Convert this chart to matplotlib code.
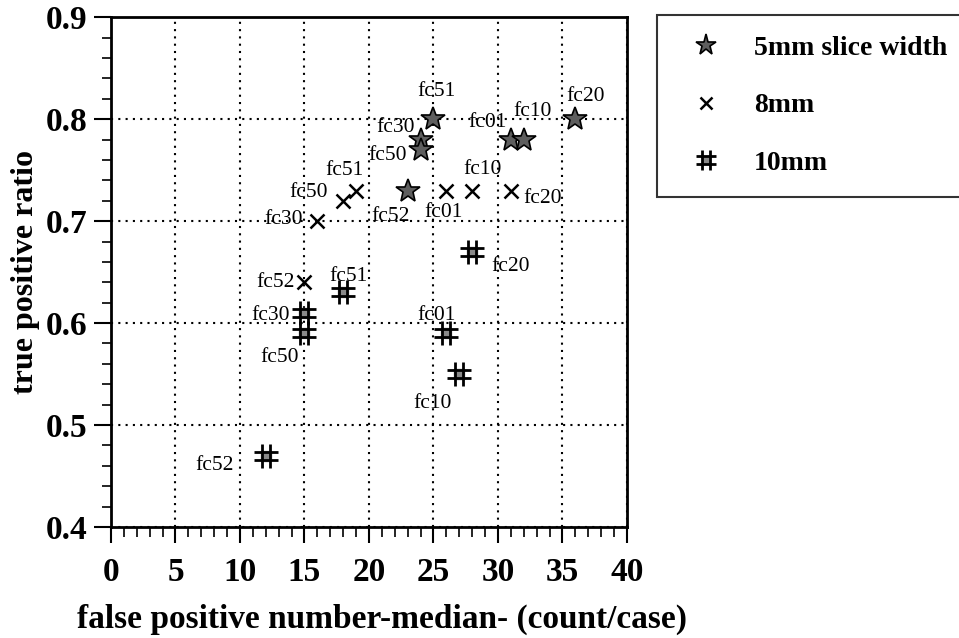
import matplotlib.pyplot as plt
from matplotlib.path import Path
from matplotlib.ticker import MultipleLocator

plt.rcParams['font.family'] = ['Liberation Serif', 'DejaVu Serif']

# 5mm slice width
labels_5mm = ['fc51', 'fc30', 'fc50', 'fc52', 'fc01', 'fc10', 'fc20']
fp_5mm = [25, 24, 24, 23, 31, 32, 36]
tp_5mm = [0.80, 0.78, 0.77, 0.73, 0.78, 0.78, 0.80]

# 8mm
labels_8mm = ['fc51', 'fc50', 'fc30', 'fc52', 'fc01', 'fc10', 'fc20']
fp_8mm = [19, 18, 16, 15, 26, 28, 31]
tp_8mm = [0.73, 0.72, 0.70, 0.64, 0.73, 0.73, 0.73]

# 10mm
labels_10mm = ['fc30', 'fc50', 'fc51', 'fc01', 'fc10', 'fc20', 'fc52']
fp_10mm = [15, 15, 18, 26, 27, 28, 12]
tp_10mm = [0.61, 0.59, 0.63, 0.59, 0.55, 0.67, 0.47]

xticks = [0, 5, 10, 15, 20, 25, 30, 35, 40]
yticks = [0.4, 0.5, 0.6, 0.7, 0.8, 0.9]

# label offsets (pixels) and alignment
off_5mm = [(3, 28, 'center'), (-6, 12, 'right'), (-14, -6, 'right'), (-17, -26, 'center'),
           (-4, 17, 'right'), (9, 28, 'center'), (10, 23, 'center')]
off_8mm = [(-12, 20, 'center'), (-15, 8, 'right'), (-15, 2, 'right'), (-10, 0, 'right'),
           (-3, -22, 'center'), (10, 21, 'center'), (12, -8, 'left')]
off_10mm = [(-15, -3, 'right'), (-25, -24, 'center'), (5, 16, 'center'), (-10, 18, 'center'),
            (-27, -29, 'center'), (19, -15, 'left'), (-32, -10, 'right')]

fig = plt.figure(figsize=(9.59, 6.38), dpi=100)
ax = fig.add_axes([0.1157, 0.174, 0.5381, 0.799])

# hash marker
hash_path = Path([(-1, -0.35), (1, -0.35), (-1, 0.35), (1, 0.35),
                  (-0.35, -1), (-0.35, 1), (0.35, -1), (0.35, 1)],
                 [Path.MOVETO, Path.LINETO] * 4)

h_star, = ax.plot(fp_5mm, tp_5mm, linestyle='none', marker='*', ms=18,
                  mfc='#5e5e5e', mec='black', mew=1.2, zorder=3)
h_x, = ax.plot(fp_8mm, tp_8mm, linestyle='none', marker='x', ms=10,
               color='black', mew=1.8, zorder=3)
h_sq, = ax.plot(fp_10mm, tp_10mm, linestyle='none', marker='s', ms=7,
                color='#8a8a8a', zorder=3)
h_hash, = ax.plot(fp_10mm, tp_10mm, linestyle='none', marker=hash_path, ms=17,
                  mfc='none', mec='black', mew=2, zorder=4)

for xs, ys, labs, offs in [(fp_5mm, tp_5mm, labels_5mm, off_5mm),
                           (fp_8mm, tp_8mm, labels_8mm, off_8mm),
                           (fp_10mm, tp_10mm, labels_10mm, off_10mm)]:
    for x, y, lab, (dx, dy, ha) in zip(xs, ys, labs, offs):
        ax.annotate(lab, (x, y), xytext=(dx, dy), textcoords='offset pixels',
                    ha=ha, va='center', fontsize=15.5, zorder=5)

ax.set_xlim(0, 40)
ax.set_ylim(0.4, 0.9)
ax.set_xticks(xticks)
ax.set_xticklabels([str(v) for v in xticks], weight='bold', fontsize=24)
ax.set_yticks(yticks)
ax.set_yticklabels(['%.1f' % v for v in yticks], weight='bold', fontsize=24)
ax.xaxis.set_minor_locator(MultipleLocator(1))
ax.yaxis.set_minor_locator(MultipleLocator(0.02))

ax.tick_params(axis='x', which='major', direction='out', length=11.5, width=1.5, pad=10)
ax.tick_params(axis='x', which='minor', direction='out', length=7, width=1.2)
ax.tick_params(axis='y', which='major', direction='out', length=12, width=1.5, pad=5)
ax.tick_params(axis='y', which='minor', direction='out', length=6.5, width=1.2)

ax.grid(which='major', color='black', linestyle=(0, (1, 2.5)), linewidth=1.5)
for s in ax.spines.values():
    s.set_linewidth(2)

ax.set_xlabel('false positive number-median- (count/case)', weight='bold', fontsize=24)
ax.xaxis.set_label_coords(0.525, -0.15)
ax.set_ylabel('true positive ratio', weight='bold', fontsize=23, labelpad=4)

leg = fig.legend([h_star, h_x, (h_sq, h_hash)], ['5mm slice width', '8mm', '10mm'],
                 loc='upper left', bbox_to_anchor=(0.685, 0.977), borderaxespad=0,
                 frameon=True, fancybox=False, edgecolor='black',
                 prop={'weight': 'bold', 'size': 20},
                 labelspacing=1.15, handletextpad=0.75, borderpad=0.75, handlelength=2.0,
                 markerscale=0.85)
leg.get_frame().set_linewidth(1.5)

fig.savefig('out.png', dpi=100)
